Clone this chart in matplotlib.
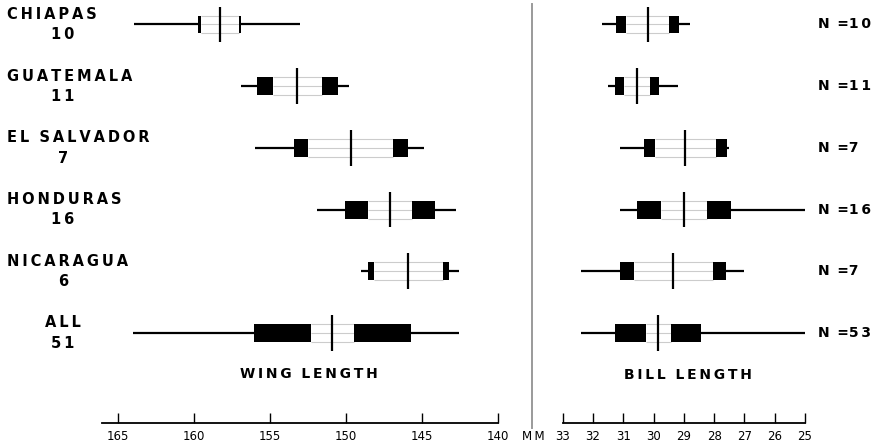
import numpy as np
import matplotlib
matplotlib.use("Agg")
import matplotlib.pyplot as plt
from matplotlib.transforms import blended_transform_factory
from matplotlib.lines import Line2D

regions = ["CHIAPAS", "GUATEMALA", "EL SALVADOR", "HONDURAS", "NICARAGUA", "ALL"]
wing_n = [10, 11, 7, 16, 6, 51]
bill_n = [10, 11, 7, 16, 7, 53]

# wing length (mm): range, mean, 2 SE and 1 SD half widths
wing_min = [163.9, 156.9, 156.0, 151.9, 149.0, 164.0]
wing_max = [153.0, 149.8, 144.9, 142.8, 142.6, 142.6]
wing_mean = [158.3, 153.2, 149.7, 147.1, 145.9, 150.9]
wing_se2 = [1.25, 1.6, 2.8, 1.45, 2.25, 1.4]
wing_sd = [1.4, 2.65, 3.75, 2.95, 2.65, 5.15]

# bill length (mm)
bill_min = [31.7, 31.5, 31.1, 31.1, 32.4, 32.4]
bill_max = [28.8, 29.2, 27.5, 25.0, 27.0, 25.0]
bill_mean = [30.2, 30.55, 28.95, 29.0, 29.35, 29.85]
bill_se2 = [0.7, 0.42, 1.0, 0.75, 1.3, 0.41]
bill_sd = [1.05, 0.72, 1.38, 1.55, 1.75, 1.42]

wing_ticks = [165, 160, 155, 150, 145, 140]
bill_ticks = [33, 32, 31, 30, 29, 28, 27, 26, 25]

W, H = 876, 447
BOX_H = 0.29


def spaced(s):
    return "\u2009".join(s).replace("\u2009 \u2009", "  ")


def dice(ax, mn, mx, mean, se2, sd):
    y = np.arange(len(mean))
    mean = np.asarray(mean)
    se2 = np.asarray(se2)
    sd = np.asarray(sd)
    ax.hlines(y, mn, mx, color="black", lw=1.6, zorder=1)
    ax.barh(y, 2 * se2, left=mean - se2, height=BOX_H, color="white",
            edgecolor="none", zorder=2)
    for dy in (-BOX_H / 2, 0, BOX_H / 2):
        ax.hlines(y + dy, mean - se2, mean + se2, color="#cccccc", lw=0.8, zorder=3)
    ax.barh(y, sd - se2, left=mean + se2, height=BOX_H, color="black", zorder=4)
    ax.barh(y, -(sd - se2), left=mean - se2, height=BOX_H, color="black", zorder=4)
    ax.vlines(mean, y - 0.29, y + 0.29, color="black", lw=1.6, zorder=5)


def setup(ax, lo, hi, ticks):
    ax.set_xlim(lo, hi)
    ax.set_ylim(6.454, -0.397)
    for s in ("left", "right", "top"):
        ax.spines[s].set_visible(False)
    ax.spines["bottom"].set_linewidth(1.3)
    ax.set_yticks([])
    ax.set_xticks(ticks)
    ax.set_xticklabels([str(t) for t in ticks])
    ax.tick_params(axis="x", direction="in", length=7.5, width=1.0,
                   pad=5, labelsize=8.5)
    ax.patch.set_alpha(0)


fig = plt.figure(figsize=(W / 100, H / 100), dpi=100)
bottom = (H - 422.7) / H

ax_w = fig.add_axes([101.7 / W, bottom, 396.6 / W, 1 - bottom])
ax_b = fig.add_axes([562.7 / W, bottom, 242.3 / W, 1 - bottom])

setup(ax_w, 166.05, 140, wing_ticks)
setup(ax_b, 33, 25, bill_ticks)
dice(ax_w, wing_min, wing_max, wing_mean, wing_se2, wing_sd)
dice(ax_b, bill_min, bill_max, bill_mean, bill_se2, bill_sd)
for art in ax_b.get_children():
    art.set_clip_on(False)

# region labels on the left
tr = blended_transform_factory(fig.transFigure, ax_w.transData)
for i, (name, n) in enumerate(zip(regions, wing_n)):
    if name == "ALL":
        fig.text(63 / W, i - 0.165, spaced(name), transform=tr, ha="center",
                 va="center", fontsize=10.5, fontweight="bold")
    else:
        fig.text(7 / W, i - 0.165, spaced(name), transform=tr, ha="left",
                 va="center", fontsize=10.5, fontweight="bold")
    fig.text(63 / W, i + 0.165, spaced(str(n)), transform=tr, ha="center",
             va="center", fontsize=10.5, fontweight="bold")

# sample sizes on the right
tr_b = blended_transform_factory(fig.transFigure, ax_b.transData)
for i, n in enumerate(bill_n):
    fig.text(818 / W, i, "N \u2009=" + spaced(str(n)), transform=tr_b, ha="left",
             va="center", fontsize=10, fontweight="bold")

fig.text(309 / W, 1 - 374 / H, spaced("WING LENGTH"), ha="center", va="center",
         fontsize=10, fontweight="bold")
fig.text(688 / W, 1 - 375 / H, spaced("BILL LENGTH"), ha="center", va="center",
         fontsize=10, fontweight="bold")
fig.text(533 / W, 1 - 436 / H, spaced("MM"), ha="center", va="center", fontsize=8.5)

# divider between the two panels
fig.add_artist(Line2D([531.5 / W, 531.5 / W], [1 - 4 / H, 1 - 428 / H],
                      transform=fig.transFigure, color="#9a9a9a", lw=1.4))

fig.savefig("out.png", dpi=100, facecolor="white")
